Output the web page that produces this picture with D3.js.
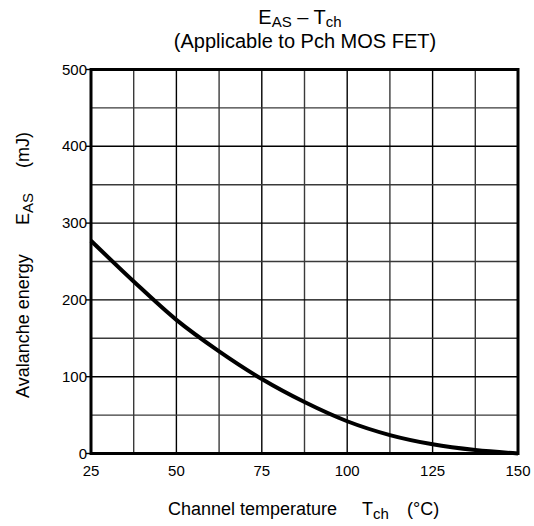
<!DOCTYPE html>
<html lang="en">
<head>
<meta charset="UTF-8">
<title>EAS - Tch</title>
<style>
  body { margin: 0; background: #fff; }
  svg { display: block; font-family: "Liberation Sans", Arial, sans-serif; }
  .tick-label { font-size: 15px; fill: #000; }
  .axis-title { font-size: 18px; fill: #000; }
  .chart-title { font-size: 20px; fill: #000; }
</style>
</head>
<body>
<svg width="534" height="526"></svg>
<script src="https://d3js.org/d3.v7.min.js"></script>
<script>
// curve
const temps = [25, 37.5, 50, 62.5, 75, 87.5, 100, 112.5, 125, 137.5, 150];
const energy = [277, 224, 174, 133, 97, 67, 42, 24, 12, 4.5, 0];

const xTicks = [25, 50, 75, 100, 125, 150];
const yTicks = [0, 100, 200, 300, 400, 500];
const xGrid = d3.range(25, 150.1, 12.5);
const yGrid = d3.range(0, 500.1, 50);

const svg = d3.select("svg");
const plotLeft = 91, plotRight = 518, plotTop = 69.5, plotBottom = 453.5;

const x = d3.scaleLinear().domain([25, 150]).range([plotLeft, plotRight]);
const y = d3.scaleLinear().domain([0, 500]).range([plotBottom, plotTop]);

// grid
svg.append("g").selectAll("line").data(xGrid).enter().append("line")
    .attr("x1", d => x(d)).attr("x2", d => x(d))
    .attr("y1", plotTop).attr("y2", plotBottom)
    .attr("stroke", d => (d - 25) % 25 === 0 ? "#000" : "#3a3a3a")
    .attr("stroke-width", 1.4);

svg.append("g").selectAll("line").data(yGrid).enter().append("line")
    .attr("x1", plotLeft).attr("x2", plotRight)
    .attr("y1", d => y(d)).attr("y2", d => y(d))
    .attr("stroke", d => d % 100 === 0 ? "#000" : "#3a3a3a")
    .attr("stroke-width", 1.4);

// y ticks (outward) + labels
svg.append("g").selectAll("line").data(yTicks).enter().append("line")
    .attr("x1", plotLeft - 5).attr("x2", plotLeft)
    .attr("y1", d => y(d)).attr("y2", d => y(d))
    .attr("stroke", "#000").attr("stroke-width", 1.4);

svg.append("g").selectAll("text").data(yTicks).enter().append("text")
    .attr("class", "tick-label")
    .attr("x", plotLeft - 4).attr("y", d => y(d) + 5)
    .attr("text-anchor", "end")
    .text(d => d);

svg.append("g").selectAll("text").data(xTicks).enter().append("text")
    .attr("class", "tick-label")
    .attr("x", d => x(d)).attr("y", plotBottom + 22)
    .attr("text-anchor", "middle")
    .text(d => d);

// frame
svg.append("rect")
    .attr("x", plotLeft).attr("y", plotTop)
    .attr("width", plotRight - plotLeft).attr("height", plotBottom - plotTop)
    .attr("fill", "none").attr("stroke", "#000").attr("stroke-width", 3);

// curve
const line = d3.line()
    .x((d, i) => x(temps[i]))
    .y(d => y(d))
    .curve(d3.curveMonotoneX);

svg.append("path")
    .datum(energy)
    .attr("d", line)
    .attr("fill", "none")
    .attr("stroke", "#000")
    .attr("stroke-width", 4);

// title
const t1 = svg.append("text").attr("class", "chart-title")
    .attr("x", 300).attr("y", 24).attr("text-anchor", "middle");
t1.append("tspan").text("E");
t1.append("tspan").attr("dy", 2.5).style("font-size", "15px").text("AS");
t1.append("tspan").attr("dy", -2.5).text(" \u2013 T");
t1.append("tspan").attr("dy", 2.5).style("font-size", "15px").text("ch");

svg.append("text").attr("class", "chart-title")
    .attr("x", 305).attr("y", 48).attr("text-anchor", "middle")
    .text("(Applicable to Pch MOS FET)");

// x axis title
svg.append("text").attr("class", "axis-title")
    .attr("x", 168).attr("y", 515)
    .text("Channel temperature");
const xt = svg.append("text").attr("class", "axis-title")
    .attr("x", 362).attr("y", 515);
xt.append("tspan").text("T");
xt.append("tspan").attr("dy", 4).style("font-size", "15px").text("ch");
svg.append("text").attr("class", "axis-title")
    .attr("x", 407).attr("y", 515)
    .text("(\u00B0C)");

// y axis title
svg.append("text").attr("class", "axis-title")
    .attr("transform", "translate(29,398) rotate(-90)")
    .text("Avalanche energy");
const yt = svg.append("text").attr("class", "axis-title")
    .attr("transform", "translate(29,225) rotate(-90)");
yt.append("tspan").text("E");
yt.append("tspan").attr("dy", 4).style("font-size", "15px").text("AS");
svg.append("text").attr("class", "axis-title")
    .attr("transform", "translate(29,168) rotate(-90)")
    .text("(mJ)");
</script>
</body>
</html>
